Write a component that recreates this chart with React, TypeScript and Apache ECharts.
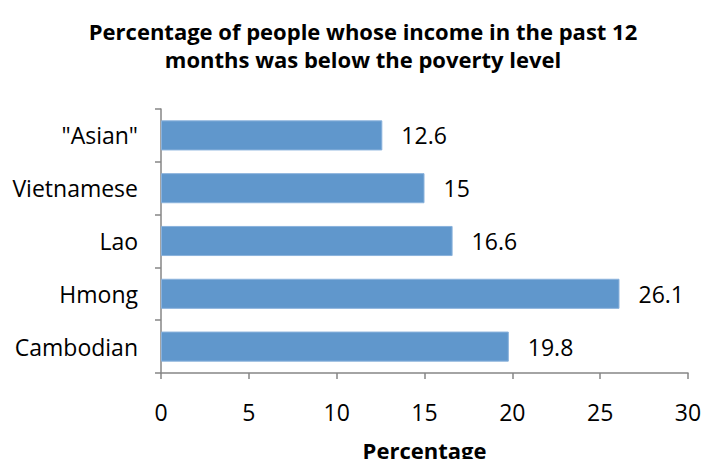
import React, { useEffect, useRef } from "react";
import * as echarts from "echarts";

const categories = ["Cambodian", "Hmong", "Lao", "Vietnamese", "\"Asian\""];
const values = [19.8, 26.1, 16.6, 15, 12.6];
const titleText = "Percentage of people whose income in the past 12\nmonths was below the poverty level";
const xAxisName = "Percentage";

const FONT = "Open Sans";

export default function App() {
  const ref = useRef<HTMLDivElement>(null);
  useEffect(() => {
    if (!ref.current) return;
    const chart = echarts.init(ref.current, null, { renderer: "svg" });
    chart.setOption({
      animation: false,
      backgroundColor: "#ffffff",
      title: {
        text: titleText,
        left: 358,
        textAlign: "center",
        top: 12,
        textStyle: { fontFamily: FONT, fontWeight: "bold", fontSize: 22, color: "#000", lineHeight: 28 },
      },
      grid: { left: 161, right: 13, top: 109, bottom: 86, containLabel: false, outerBoundsMode: "none" },
      xAxis: {
        type: "value",
        min: 0,
        max: 30,
        interval: 5,
        name: xAxisName,
        nameLocation: "middle",
        nameGap: 66,
        nameTextStyle: { fontFamily: FONT, fontWeight: "bold", fontSize: 22, color: "#000" },
        axisLine: { show: true, lineStyle: { color: "#868686", width: 1.5 } },
        axisTick: { show: true, length: 6, lineStyle: { color: "#868686", width: 1.5 } },
        splitLine: { show: false },
        axisLabel: { fontFamily: FONT, fontSize: 23, color: "#000", margin: 27 },
      },
      yAxis: {
        type: "category",
        data: categories,
        axisLine: { show: true, lineStyle: { color: "#868686", width: 1.5 } },
        axisTick: { show: true, length: 6, lineStyle: { color: "#868686", width: 1.5 } },
        axisLabel: { fontFamily: FONT, fontSize: 23, color: "#000", margin: 23 },
      },
      series: [
        {
          type: "bar",
          data: values,
          barWidth: "57%",
          itemStyle: { color: "#6097CC", borderColor: "#8AB2DC", borderWidth: 1 },
          label: {
            show: true,
            position: "right",
            distance: 19,
            fontFamily: FONT,
            fontSize: 23,
            color: "#000",
          },
        },
      ],
    });
    return () => chart.dispose();
  }, []);
  return <div ref={ref} style={{ width: 701, height: 459, position: "absolute", left: 0, top: 0 }} />;
}
